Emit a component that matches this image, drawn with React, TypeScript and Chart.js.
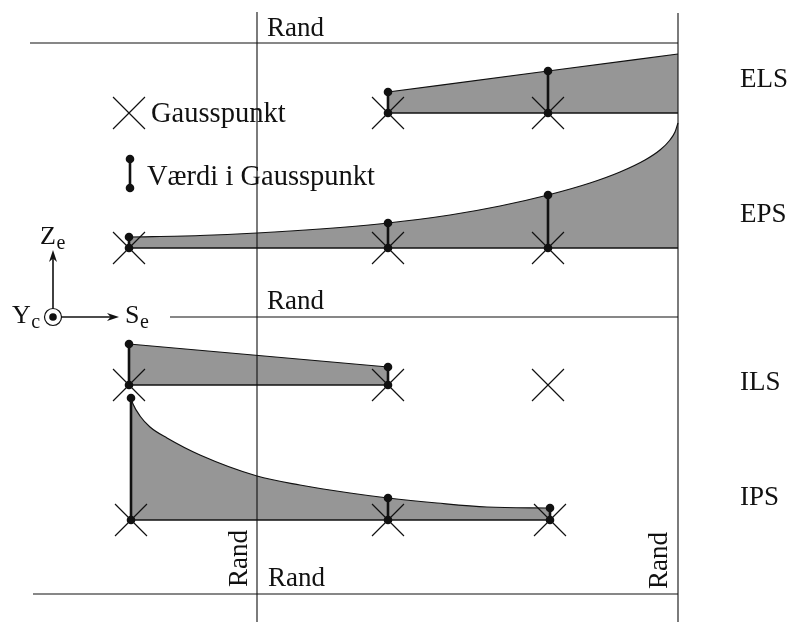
import React, { useEffect, useRef } from "react";
import { Chart, registerables } from "chart.js";

Chart.register(...registerables);

// ---------------- data (diagram units: s to the right, z downward) ----------------
// Row labels and base lines (z of the element reference line for each case)
const rowLabels = ["ELS", "EPS", "ILS", "IPS"];
const rowBaseZ = [113, 248, 385, 520];

// Gauss point positions along s, per row
const elsGaussS = [388, 548];
const epsGaussS = [129, 388, 548];
const ilsGaussS = [129, 388, 548];
const ipsGaussS = [131, 388, 550];

// Values in the Gauss points (height above the row base line)
const elsValues = [21, 42];
const epsValues = [11, 25, 53];
const ilsValues = [41, 18]; // third Gauss point carries no value
const ipsValues = [122, 22, 12];

// Distribution profiles (s, height above base)
const elsProfileS = [388, 548, 678];
const elsProfileH = [21, 42, 59];
const epsProfileS = [129, 200, 257, 320, 388, 450, 500, 548, 590, 620, 645, 660, 670, 675, 678];
const epsProfileH = [11, 12.5, 15, 19, 25, 33, 42, 53, 65, 76, 88, 98, 108, 116, 125];
const ilsProfileS = [129, 388];
const ilsProfileH = [41, 18];
const ipsProfileS = [131, 133, 140, 150, 167, 200, 257, 300, 350, 388, 437, 487, 550];
const ipsProfileH = [122, 116, 104, 93, 82, 65, 44, 35, 27, 22, 17, 13, 12];

// Extent of each row's base line
const elsBaseS = [388, 678];
const epsBaseS = [129, 678];
const ilsBaseS = [129, 388];
const ipsBaseS = [131, 550];

// Boundaries ("Rand")
const randVerticalS = [257, 678];
const randVerticalZ = [
  [12, 622],
  [13, 622],
];
const randHorizontalZ = [43, 317, 594];
const randHorizontalS = [
  [30, 678],
  [170, 678],
  [33, 678],
];

// Legend
const legendCrossS = 129;
const legendCrossZ = 113;
const legendBarS = 130;
const legendBarZ = [159, 188];
const legendTexts = ["Gausspunkt", "Værdi i Gausspunkt"];

// Local coordinate system symbol
const axisOrigin = [53, 317];
const axisZTip = [53, 250];
const axisSTip = [119, 317];

// ---------------- styling ----------------
const INK = "#111111";
const FILL = "#969696";
const FONT = "'Liberation Serif', 'Times New Roman', serif";

type Pt = { x: number; y: number };

function lineSet(pts: Pt[], extra: any = {}) {
  return {
    type: "line",
    data: pts,
    borderColor: INK,
    borderWidth: 1.2,
    pointRadius: 0,
    pointHoverRadius: 0,
    fill: false,
    tension: 0,
    clip: false,
    ...extra,
  };
}

function profileSet(sArr: number[], hArr: number[], base: number, extra: any = {}) {
  const pts = sArr.map((s, i) => ({ x: s, y: base - hArr[i] }));
  return lineSet(pts, {
    fill: { value: base },
    backgroundColor: FILL,
    borderWidth: 1.2,
    cubicInterpolationMode: "monotone",
    ...extra,
  });
}

function barSets(sArr: number[], vals: number[], base: number) {
  return vals.map((v, i) =>
    lineSet(
      [
        { x: sArr[i], y: base },
        { x: sArr[i], y: base - v },
      ],
      {
        borderWidth: 2.6,
        pointRadius: 4.3,
        pointBackgroundColor: INK,
        pointBorderWidth: 0,
        pointBorderColor: INK,
      }
    )
  );
}

function crossSet(pts: Pt[]) {
  return {
    type: "line",
    data: pts,
    showLine: false,
    pointStyle: "crossRot",
    pointRadius: 22.6,
    pointHoverRadius: 22.6,
    pointBorderWidth: 1.2,
    pointBorderColor: INK,
    borderColor: INK,
    clip: false,
  };
}

type Label = { text: string; sub?: string; s: number; z: number; size: number; rot?: boolean };

const labels: Label[] = [
  { text: "Rand", s: 267, z: 36, size: 27 },
  { text: "Rand", s: 267, z: 309, size: 27 },
  { text: "Rand", s: 268, z: 586, size: 27 },
  { text: "Rand", s: 247, z: 587, size: 27, rot: true },
  { text: "Rand", s: 667, z: 589, size: 27, rot: true },
  { text: rowLabels[0], s: 740, z: 87, size: 27 },
  { text: rowLabels[1], s: 740, z: 222, size: 27 },
  { text: rowLabels[2], s: 740, z: 390, size: 27 },
  { text: rowLabels[3], s: 740, z: 505, size: 27 },
  { text: legendTexts[0], s: 151, z: 122, size: 28.5 },
  { text: legendTexts[1], s: 147, z: 185, size: 28.5 },
  { text: "Z", sub: "e", s: 40, z: 244, size: 26 },
  { text: "Y", sub: "c", s: 12, z: 323, size: 26 },
  { text: "S", sub: "e", s: 125, z: 323, size: 26 },
];

const textPlugin = {
  id: "diagramText",
  afterDatasetsDraw(chart: any) {
    const { ctx, scales } = chart;
    const xs = scales.x;
    const ys = scales.y;
    // arrow heads of the coordinate symbol
    const ox = xs.getPixelForValue(axisOrigin[0]);
    const oy = ys.getPixelForValue(axisOrigin[1]);
    const heads = [axisZTip, axisSTip];
    ctx.save();
    ctx.fillStyle = INK;
    heads.forEach((tip) => {
      const tx = xs.getPixelForValue(tip[0]);
      const ty = ys.getPixelForValue(tip[1]);
      const ang = Math.atan2(ty - oy, tx - ox);
      const L = 12;
      const W = 4;
      ctx.beginPath();
      ctx.moveTo(tx, ty);
      ctx.lineTo(tx - L * Math.cos(ang) - W * Math.sin(ang), ty - L * Math.sin(ang) + W * Math.cos(ang));
      ctx.lineTo(tx - 0.7 * L * Math.cos(ang), ty - 0.7 * L * Math.sin(ang));
      ctx.lineTo(tx - L * Math.cos(ang) + W * Math.sin(ang), ty - L * Math.sin(ang) - W * Math.cos(ang));
      ctx.closePath();
      ctx.fill();
    });
    ctx.restore();

    ctx.save();
    ctx.fillStyle = INK;
    ctx.textBaseline = "alphabetic";
    ctx.textAlign = "left";
    labels.forEach((l) => {
      const px = xs.getPixelForValue(l.s);
      const py = ys.getPixelForValue(l.z);
      ctx.save();
      ctx.translate(px, py);
      if (l.rot) ctx.rotate(-Math.PI / 2);
      ctx.font = `${l.size}px ${FONT}`;
      ctx.fillText(l.text, 0, 0);
      if (l.sub) {
        const w = ctx.measureText(l.text).width;
        ctx.font = `${Math.round(l.size * 0.76)}px ${FONT}`;
        ctx.fillText(l.sub, w + 0.5, 5);
      }
      ctx.restore();
    });
    ctx.restore();
  },
};

function buildDatasets() {
  const bottomFirst: any[] = [];
  // distributions (gray areas)
  bottomFirst.push(profileSet(elsProfileS, elsProfileH, rowBaseZ[0]));
  bottomFirst.push(profileSet(epsProfileS, epsProfileH, rowBaseZ[1]));
  bottomFirst.push(profileSet(ilsProfileS, ilsProfileH, rowBaseZ[2], { cubicInterpolationMode: "default" }));
  bottomFirst.push(profileSet(ipsProfileS, ipsProfileH, rowBaseZ[3]));
  // boundaries
  randVerticalS.forEach((s, i) =>
    bottomFirst.push(
      lineSet(
        [
          { x: s, y: randVerticalZ[i][0] },
          { x: s, y: randVerticalZ[i][1] },
        ],
        { borderWidth: 1.1 }
      )
    )
  );
  randHorizontalZ.forEach((z, i) =>
    bottomFirst.push(
      lineSet(
        [
          { x: randHorizontalS[i][0], y: z },
          { x: randHorizontalS[i][1], y: z },
        ],
        { borderWidth: 1.1 }
      )
    )
  );
  // row base lines
  const baseExt = [elsBaseS, epsBaseS, ilsBaseS, ipsBaseS];
  baseExt.forEach((ext, i) =>
    bottomFirst.push(
      lineSet(
        [
          { x: ext[0], y: rowBaseZ[i] },
          { x: ext[1], y: rowBaseZ[i] },
        ],
        { borderWidth: 1.4 }
      )
    )
  );
  // Gauss point crosses
  const gauss = [elsGaussS, epsGaussS, ilsGaussS, ipsGaussS];
  const crossPts: Pt[] = [{ x: legendCrossS, y: legendCrossZ }];
  gauss.forEach((arr, i) => arr.forEach((s) => crossPts.push({ x: s, y: rowBaseZ[i] })));
  bottomFirst.push(crossSet(crossPts));
  // values in Gauss points
  bottomFirst.push(...barSets(elsGaussS, elsValues, rowBaseZ[0]));
  bottomFirst.push(...barSets(epsGaussS, epsValues, rowBaseZ[1]));
  bottomFirst.push(...barSets(ilsGaussS, ilsValues, rowBaseZ[2]));
  bottomFirst.push(...barSets(ipsGaussS, ipsValues, rowBaseZ[3]));
  // legend value bar
  bottomFirst.push(...barSets([legendBarS], [legendBarZ[1] - legendBarZ[0]], legendBarZ[1]));
  // coordinate symbol
  bottomFirst.push(
    lineSet(
      [
        { x: axisOrigin[0], y: axisOrigin[1] },
        { x: axisZTip[0], y: axisZTip[1] + 4 },
      ],
      { borderWidth: 1.6 }
    )
  );
  bottomFirst.push(
    lineSet(
      [
        { x: axisOrigin[0], y: axisOrigin[1] },
        { x: axisSTip[0] - 4, y: axisSTip[1] },
      ],
      { borderWidth: 1.6 }
    )
  );
  bottomFirst.push({
    type: "line",
    data: [{ x: axisOrigin[0], y: axisOrigin[1] }],
    showLine: false,
    pointStyle: "circle",
    pointRadius: 8.5,
    pointBackgroundColor: "#ffffff",
    pointBorderColor: INK,
    pointBorderWidth: 1.2,
    clip: false,
  });
  bottomFirst.push({
    type: "line",
    data: [{ x: axisOrigin[0], y: axisOrigin[1] }],
    showLine: false,
    pointStyle: "circle",
    pointRadius: 3.8,
    pointBackgroundColor: INK,
    pointBorderWidth: 0,
    clip: false,
  });
  // Chart.js draws dataset 0 last (on top) -> reverse
  return bottomFirst.reverse();
}

export default function App() {
  const canvasRef = useRef<HTMLCanvasElement | null>(null);

  useEffect(() => {
    if (!canvasRef.current) return;
    const chart = new Chart(canvasRef.current, {
      type: "line",
      data: { datasets: buildDatasets() as any },
      options: {
        animation: false,
        responsive: true,
        maintainAspectRatio: false,
        events: [],
        layout: { padding: 0, autoPadding: false },
        plugins: {
          legend: { display: false },
          tooltip: { enabled: false },
        },
        scales: {
          x: { type: "linear", min: 0, max: 790, display: false },
          y: { type: "linear", min: 0, max: 622, reverse: true, display: false },
        },
      } as any,
      plugins: [textPlugin],
    });
    return () => chart.destroy();
  }, []);

  return (
    <div style={{ position: "fixed", left: 0, top: 0, width: 790, height: 622, background: "#fff" }}>
      <canvas ref={canvasRef} />
    </div>
  );
}
